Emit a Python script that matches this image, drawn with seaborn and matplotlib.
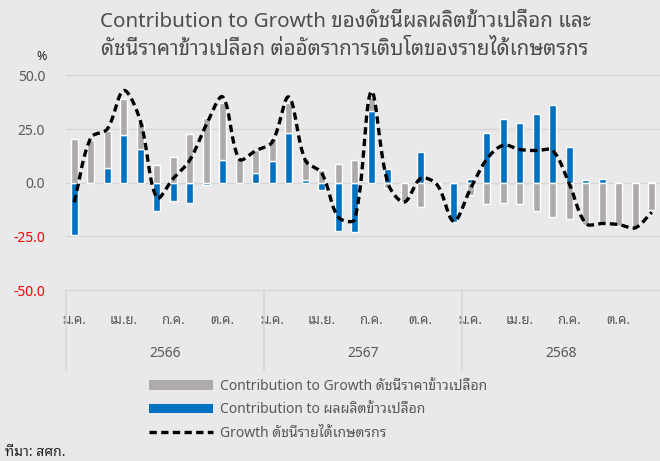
import numpy as np
import pandas as pd
import matplotlib
matplotlib.use("Agg")
import matplotlib.pyplot as plt
from matplotlib.patches import Patch
from matplotlib.lines import Line2D
import seaborn as sns

# data (monthly, Jan 2566 - Dec 2568)
years = ["2566", "2567", "2568"]
month_ticks = ["ม.ค.", "เม.ย.", "ก.ค.", "ต.ค."]

production = [-24.4, 0.0, 6.9, 22.2, 15.6, -13.3, -8.6, -9.4, -1.2, 10.5, 0.0, 4.5,
              10.0, 23.0, 1.1, -3.3, -22.5, -23.1, 33.4, 6.6, 0.0, 14.4, -0.5, -18.4,
              1.7, 23.3, 29.8, 28.0, 32.0, 36.1, 16.6, 1.1, 1.6, 0.0, 0.0, 0.3]
price = [20.6, 19.8, 17.3, 17.0, 12.5, 8.1, 12.0, 22.7, 30.3, 26.5, 11.2, 10.7,
         10.9, 14.0, 10.6, 6.1, 8.6, 10.5, 6.8, -2.3, -9.1, -11.4, 0.0, 0.0,
         -5.5, -9.8, -9.5, -9.8, -13.0, -16.1, -17.0, -19.5, -19.5, -20.0, -20.5, -12.7]
growth = [-9.1, 21.0, 25.0, 43.0, 29.0, -7.0, 2.0, 10.5, 27.0, 40.0, 11.0, 15.0,
          19.0, 40.0, 10.5, 4.5, -16.0, -17.0, 42.5, 0.0, -9.0, 2.0, -1.0, -18.0,
          -3.0, 11.0, 17.5, 15.5, 15.0, 15.0, -0.5, -19.0, -19.0, -19.5, -21.0, -13.75]

GREY = "#AEAAAA"
BLUE = "#0070C0"
BG = "#E9E9EB"
GRID = "#D6D6D8"
TXT = "#595959"


def smooth(x, y, sx=16.5, sy=2.14, n=24):
    # Excel-style smoothed line: cubic bezier per segment, tangents
    # weighted by the on-screen segment lengths (keeps overshoot small)
    P = np.column_stack([np.asarray(x, float), np.asarray(y, float)])
    scr = P * [sx, sy]
    d = np.hypot(*np.diff(scr, axis=0).T)
    t = np.linspace(0, 1, n, endpoint=False)[:, None]
    out = []
    for i in range(len(P) - 1):
        p1, p2 = P[i], P[i + 1]
        if i > 0:
            c1 = p1 + (p2 - P[i - 1]) * d[i] / (d[i - 1] + d[i]) / 3
        else:
            c1 = p1 + (p2 - p1) / 3
        if i + 2 < len(P):
            c2 = p2 - (P[i + 2] - p1) * d[i] / (d[i] + d[i + 1]) / 3
        else:
            c2 = p2 - (p2 - p1) / 3
        out.append((1 - t) ** 3 * p1 + 3 * (1 - t) ** 2 * t * c1
                   + 3 * (1 - t) * t ** 2 * c2 + t ** 3 * p2)
    out.append(P[-1:])
    out = np.vstack(out)
    return out[:, 0], out[:, 1]


df = pd.DataFrame({"production": production, "price": price, "growth": growth})
df["idx"] = np.arange(len(df))
# stack the price part on the production part when both have the same sign
same = np.sign(df["price"]) == np.sign(df["production"])
df["price_bottom"] = np.where(same, df["production"], 0.0)

sns.set_theme(style="white", rc={"axes.facecolor": BG, "figure.facecolor": BG})
plt.rcParams["font.family"] = ["Noto Sans", "Noto Sans Thai Looped"]

fig = plt.figure(figsize=(6.6, 4.61), dpi=100)
ax = fig.add_axes([66 / 660, 1 - 290 / 461, 1 - 66 / 660, (290 - 75.5) / 461])
ax.set_facecolor(BG)

w = 0.42
ax.bar(df["idx"], df["production"], width=w, color=BLUE, zorder=2)
ax.bar(df["idx"], df["price"], bottom=df["price_bottom"], width=w, color=GREY, zorder=2)

lx, ly = smooth(df["idx"], df["growth"])
sns.lineplot(x=lx, y=ly, sort=False, estimator=None, ax=ax, color="black",
             lw=2.4, linestyle=(0, (2.2, 1.3)), zorder=3)

ax.set_xlim(-0.5, len(df) - 0.5)
ax.set_ylim(-50, 50)
yt = np.arange(-50, 51, 25)
ax.set_yticks(yt)
ax.set_yticklabels([f"{v:.1f}" for v in yt], fontsize=10)
for lab, v in zip(ax.get_yticklabels(), yt):
    lab.set_color("#FF0000" if v < 0 else TXT)
for v in yt:
    ax.axhline(v, color=GRID, lw=1, zorder=0, clip_on=False)

ax.set_xticks(np.arange(0, len(df), 3))
ax.set_xticklabels(month_ticks * len(years), fontsize=9.5, color=TXT)
ax.tick_params(axis="x", length=0, pad=17)
ax.tick_params(axis="y", length=0, pad=15)
for s in ax.spines.values():
    s.set_visible(False)
ax.set_xlabel("")
ax.set_ylabel("")

# year groups and separators below the axis
tr = ax.get_xaxis_transform()
y_sep = -(370 - 290) / (290 - 75.5)
for k, yr in enumerate(years):
    ax.text(k * 12 + 5.5, -(353 - 290) / (290 - 75.5), yr, transform=tr,
            ha="center", va="center", fontsize=10, color=TXT)
for k in range(len(years)):
    ax.plot([k * 12 - 0.5] * 2, [0, y_sep], transform=tr, color=GRID, lw=1.2,
            clip_on=False)

fig.text(345 / 660, 1 - 22 / 461, "Contribution to Growth ของดัชนีผลผลิตข้าวเปลือก และ",
         ha="center", va="center", fontsize=14.8, color="#4D4D4D")
fig.text(345 / 660, 1 - 50 / 461, "ดัชนีราคาข้าวเปลือก ต่ออัตราการเติบโตของรายได้เกษตรกร",
         ha="center", va="center", fontsize=14.8, color="#4D4D4D")
fig.text(42 / 660, 1 - 56 / 461, "%", ha="center", va="center", fontsize=9, color="#222222")
fig.text(5 / 660, 1 - 452 / 461, "ที่มา: สศก.", ha="left", va="center", fontsize=10, color="#222222")

handles = [Patch(facecolor=GREY, edgecolor="none"),
           Patch(facecolor=BLUE, edgecolor="none"),
           Line2D([], [], color="black", lw=2.4, linestyle=(0, (2.2, 1.3)))]
labels = ["Contribution to Growth ดัชนีราคาข้าวเปลือก",
          "Contribution to ผลผลิตข้าวเปลือก",
          "Growth ดัชนีรายได้เกษตรกร"]
fig.legend(handles, labels, loc="upper left", bbox_to_anchor=(142 / 660, 1 - 372 / 461),
           frameon=False, fontsize=10, labelcolor=TXT, handlelength=4.6,
           handletextpad=0.5, labelspacing=0.6, borderpad=0)

fig.savefig("out.png", dpi=100, facecolor=BG)
